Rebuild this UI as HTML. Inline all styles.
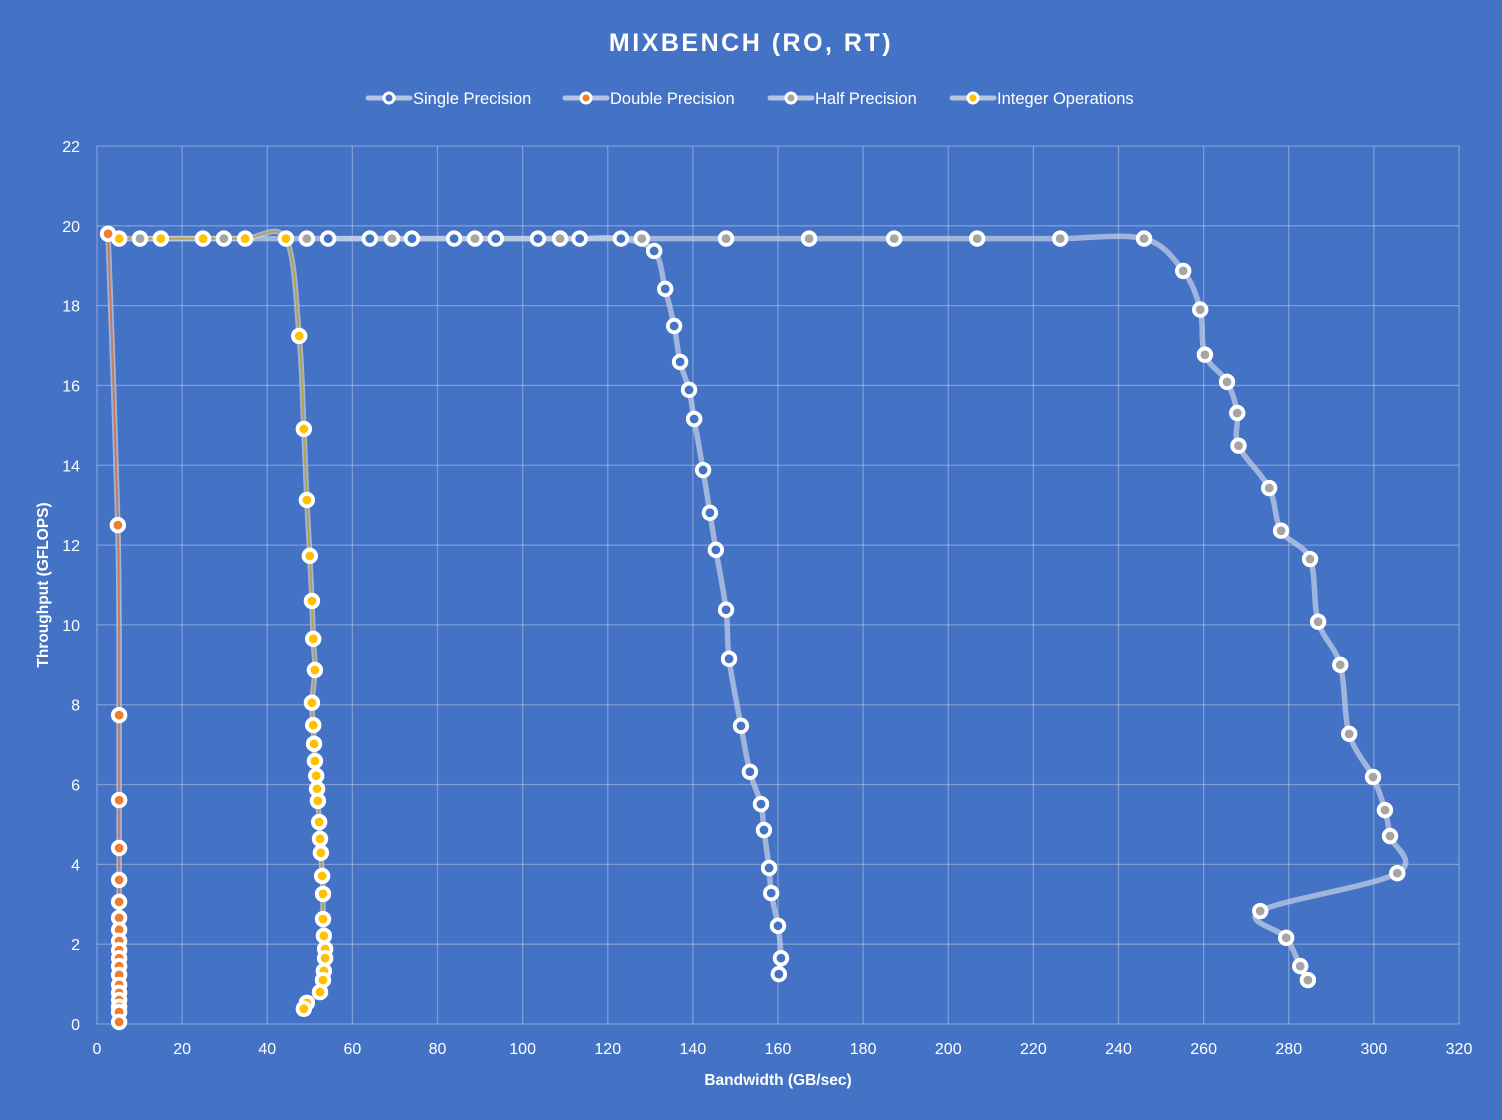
<!DOCTYPE html>
<html><head><meta charset="utf-8"><style>
html,body{margin:0;padding:0;background:#4472c4;}
svg{display:block;font-family:"Liberation Sans",sans-serif;}
</style></head><body>
<svg id="chart" width="1502" height="1120" viewBox="0 0 1502 1120" xmlns="http://www.w3.org/2000/svg">
<rect width="1502" height="1120" fill="#4472c4"/>
<text x="751" y="51" text-anchor="middle" fill="#fff" font-size="25" font-weight="bold" letter-spacing="2.5">MIXBENCH  (RO, RT)</text>
<g id="grid"></g>
<g id="xticks"></g>
<g id="yticks"></g>
<text x="778" y="1085" text-anchor="middle" fill="#fff" font-size="15.5" font-weight="bold">Bandwidth (GB/sec)</text>
<text transform="translate(48,585) rotate(-90)" text-anchor="middle" fill="#fff" font-size="15.5" font-weight="bold">Throughput (GFLOPS)</text>
<g id="series"></g>
<g id="legend"></g>
</svg>
<script>
const xTicks=[0,20,40,60,80,100,120,140,160,180,200,220,240,260,280,300,320];
const yTicks=[0,2,4,6,8,10,12,14,16,18,20,22];
const seriesNames=["Single Precision","Double Precision","Half Precision","Integer Operations"];
const singleX=[54.3,64.1,74.0,83.9,93.7,103.6,113.4,123.1,130.9,133.5,135.6,137,139.1,140.3,142.4,144,145.4,147.8,148.5,151.3,153.4,156,156.7,157.9,158.4,160,160.7,160.2];
const singleY=[19.68,19.68,19.68,19.68,19.68,19.68,19.68,19.68,19.37,18.42,17.49,16.59,15.89,15.16,13.88,12.81,11.88,10.38,9.15,7.47,6.32,5.51,4.86,3.91,3.28,2.46,1.65,1.25];
const doubleX=[2.6,4.9,5.2,5.2,5.2,5.2,5.2,5.2,5.2,5.2,5.2,5.2,5.2,5.2,5.2,5.2,5.2,5.2,5.2,5.2];
const doubleY=[19.8,12.5,7.74,5.61,4.41,3.61,3.06,2.66,2.36,2.08,1.85,1.65,1.45,1.23,0.98,0.78,0.6,0.43,0.3,0.05];
const halfX=[10.1,29.8,49.3,69.3,88.8,108.8,128,147.8,167.3,187.3,206.8,226.3,246,255.2,259.2,260.3,265.5,267.9,268.2,275.4,278.2,285,286.9,292.1,294.2,299.8,302.6,303.8,305.5,273.3,279.4,282.7,284.5];
const halfY=[19.68,19.68,19.68,19.68,19.68,19.68,19.68,19.68,19.68,19.68,19.68,19.68,19.68,18.87,17.9,16.77,16.09,15.31,14.49,13.43,12.36,11.65,10.08,9.0,7.27,6.19,5.36,4.71,3.78,2.83,2.16,1.45,1.1];
const intX=[5.2,15,24.9,34.8,44.4,47.5,48.6,49.3,50,50.5,50.8,51.2,50.5,50.8,51,51.2,51.5,51.7,51.9,52.2,52.4,52.6,52.9,53.1,53.1,53.3,53.6,53.6,53.3,53.1,52.4,49.3,48.6];
const intY=[19.68,19.68,19.68,19.68,19.68,17.24,14.91,13.13,11.73,10.6,9.65,8.87,8.05,7.49,7.02,6.59,6.22,5.89,5.59,5.06,4.64,4.29,3.71,3.26,2.63,2.21,1.88,1.65,1.33,1.1,0.8,0.53,0.38];

const NS="http://www.w3.org/2000/svg";
const X0=97,X1=1459,Y0=1024,Y1=146;
function sx(v){return X0+(v-0)/(320-0)*(X1-X0);}
function sy(v){return Y0-(v-0)/(22-0)*(Y0-Y1);}
function mk(tag,attrs,parent){const e=document.createElementNS(NS,tag);for(const k in attrs)e.setAttribute(k,attrs[k]);parent.appendChild(e);return e;}
const grid=document.getElementById('grid'),xt=document.getElementById('xticks'),yt=document.getElementById('yticks');
xTicks.forEach(t=>{
  const l=mk('line',{x1:sx(t),x2:sx(t),y1:Y1,y2:Y0,stroke:'rgba(255,255,255,0.3)','stroke-width':1.3},grid);
  
  
  const tx=mk('text',{x:sx(t),y:Y0+30,'text-anchor':'middle',fill:'#fff','font-size':16},xt);
  tx.textContent=t;
  
  
});
yTicks.forEach(t=>{
  const l=mk('line',{x1:X0,x2:X1,y1:sy(t),y2:sy(t),stroke:'rgba(255,255,255,0.3)','stroke-width':1.3},grid);
  
  
  const tx=mk('text',{x:X0-17,y:sy(t)+6,'text-anchor':'end',fill:'#fff','font-size':16},yt);
  tx.textContent=t;
  
  
});
function smooth(xs,ys){
  const p=xs.map((x,i)=>[sx(x),sy(ys[i])]);
  let d='M'+p[0][0]+','+p[0][1];
  for(let i=0;i<p.length-1;i++){
    const a=p[i-1]||p[i],b=p[i],c=p[i+1],e=p[i+2]||c;
    const c1=[b[0]+(c[0]-a[0])/6,b[1]+(c[1]-a[1])/6],c2=[c[0]-(e[0]-b[0])/6,c[1]-(e[1]-b[1])/6];
    d+=' C'+c1[0]+','+c1[1]+' '+c2[0]+','+c2[1]+' '+c[0]+','+c[1];
  }
  return d;
}
const ser=document.getElementById('series');
const defs=[
 {xs:halfX,ys:halfY,fill:'#a5a5a5',core:null,name:'half'},
 {xs:singleX,ys:singleY,fill:'#4472c4',core:null,name:'single'},
 {xs:intX,ys:intY,fill:'#ffc000',core:'#b8a24a',name:'integer'},
 {xs:doubleX,ys:doubleY,fill:'#ed7d31',core:'#c87a5a',name:'double'}
];
defs.forEach(s=>{
  const d=smooth(s.xs,s.ys);
  const l=mk('path',{d:d,fill:'none',stroke:'rgba(200,210,232,0.7)','stroke-width':5.5,'stroke-linejoin':'round'},ser);
  
  
  if(s.core){const c=mk('path',{d:d,fill:'none',stroke:s.core,'stroke-width':2},ser);
    
    }
});
defs.forEach(s=>{
  s.xs.forEach((x,i)=>{
    const m=mk('circle',{cx:sx(x),cy:sy(s.ys[i]),r:6.3,fill:s.fill,stroke:'#fff','stroke-width':3.8},ser);
    
    
  });
});
const leg=document.getElementById('legend');
const legX=[368,565,770,952],legFill=['#4472c4','#ed7d31','#a5a5a5','#ffc000'];
seriesNames.forEach((n,i)=>{
  const g=mk('g',{},leg);
  
  
  mk('line',{x1:legX[i],x2:legX[i]+42,y1:98,y2:98,stroke:'rgba(200,210,232,0.85)','stroke-width':5,'stroke-linecap':'round'},g);
  mk('circle',{cx:legX[i]+21,cy:98,r:5,fill:legFill[i],stroke:'#fff','stroke-width':3},g);
  const t=mk('text',{x:legX[i]+45,y:104,fill:'#fff','font-size':16.5},g);
  t.textContent=n;
});
</script>
</body></html>
